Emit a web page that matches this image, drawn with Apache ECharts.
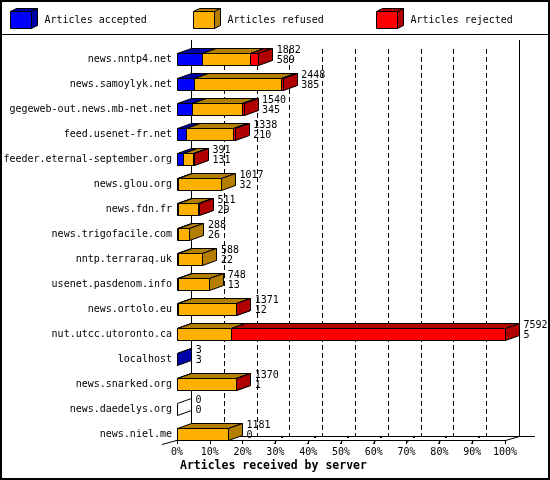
<!DOCTYPE html>
<html><head><meta charset="utf-8">
<title>Articles received by server</title>
<script src="https://cdn.jsdelivr.net/npm/echarts@6/dist/echarts.min.js"></script>
<style>html,body{margin:0;padding:0;background:#fff}#g1{width:550px;height:480px}</style>
</head>
<body>
<div id="g1"></div>
<script type="text/javascript">
// servers, top to bottom
var servers = ['news.nntp4.net', 'news.samoylyk.net', 'gegeweb-out.news.mb-net.net', 'feed.usenet-fr.net',
    'feeder.eternal-september.org', 'news.glou.org', 'news.fdn.fr', 'news.trigofacile.com',
    'nntp.terraraq.uk', 'usenet.pasdenom.info', 'news.ortolo.eu', 'nut.utcc.utoronto.ca',
    'localhost', 'news.snarked.org', 'news.daedelys.org', 'news.niel.me'];
var accepted = [589, 385, 345, 210, 131, 32, 29, 26, 22, 13, 12, 5, 3, 1, 0, 0];
var refused = [1105, 2020, 1170, 1078, 240, 985, 464, 262, 566, 735, 1349, 1250, 0, 1359, 0, 1181];
var rejected = [188, 43, 25, 50, 20, 0, 18, 0, 0, 0, 10, 6337, 0, 10, 0, 0];
var seriesNames = ['Articles accepted', 'Articles refused', 'Articles rejected'];

var front = ['#0000ff', '#ffb000', '#ff0000'];
var dark = ['#0000aa', '#b47e00', '#b00000'];
var FONT = '"DejaVu Sans Mono", monospace';

var totals = [];
for (var i = 0; i < servers.length; i++) {
    totals.push(accepted[i] + refused[i] + rejected[i]);
}
var maxTotal = Math.max.apply(null, totals);

var barData = [];
for (var i = 0; i < servers.length; i++) {
    barData.push([i, accepted[i], refused[i], rejected[i]]);
}

var DX = 14, DY = 5, H = 6;
function px(v) { return Math.round(v) + 0.5; }

function renderBar(params, api) {
    var i = api.value(0);
    var vals = [api.value(1), api.value(2), api.value(3)];
    var total = vals[0] + vals[1] + vals[2];
    var base = api.coord([0, i]);
    var yt = px(base[1] - H), yb = yt + 2 * H;
    var kids = [];
    var line = {stroke: '#000', lineWidth: 1};
    if (total === 0) {
        var x0 = px(base[0]);
        kids.push({type: 'polygon', shape: {points: [[x0, yt], [x0 + DX, yt - DY], [x0 + DX, yb - DY], [x0, yb]]},
            style: {fill: '#fff', stroke: '#000', lineWidth: 1}});
    }
    var cum = 0;
    for (var k = 0; k < 3; k++) {
        if (!vals[k]) continue;
        var x1 = px(api.coord([cum / maxTotal * 100, i])[0]);
        cum += vals[k];
        var x2 = px(api.coord([cum / maxTotal * 100, i])[0]);
        kids.push({type: 'rect', shape: {x: x1, y: yt, width: x2 - x1, height: 2 * H},
            style: {fill: front[k], stroke: '#000', lineWidth: 1}});
        kids.push({type: 'polygon', shape: {points: [[x1, yt], [x2, yt], [x2 + DX, yt - DY], [x1 + DX, yt - DY]]},
            style: {fill: dark[k], stroke: '#000', lineWidth: 1}});
        kids.push({type: 'polygon', shape: {points: [[x2, yt], [x2 + DX, yt - DY], [x2 + DX, yb - DY], [x2, yb]]},
            style: {fill: dark[k], stroke: '#000', lineWidth: 1}});
    }
    var xe = api.coord([total / maxTotal * 100, i])[0];
    kids.push({type: 'text', style: {text: String(total), x: xe + 18.5, y: base[1] - 9,
        font: '10px ' + FONT, fill: '#000', align: 'left', verticalAlign: 'middle'}});
    kids.push({type: 'text', style: {text: String(vals[0]), x: xe + 18.5, y: base[1] + 1.5,
        font: '10px ' + FONT, fill: '#000', align: 'left', verticalAlign: 'middle'}});
    return {type: 'group', children: kids};
}

// back wall, floor and the odd slanted ticks
function renderFrame(params, api) {
    var kids = [];
    var solid = {stroke: '#000', lineWidth: 1};
    var dashed = {stroke: '#000', lineWidth: 1, lineDash: [5, 3]};
    var xs = [];
    for (var k = 0; k <= 10; k++) xs.push(Math.round(api.coord([k * 10, 0])[0]));
    for (var k = 0; k <= 10; k++) {
        var xb = xs[k] + DX + 0.5;
        if (k === 0 || k === 10) {
            kids.push({type: 'line', shape: {x1: xb, y1: 40, x2: xb, y2: 436.5}, style: solid});
        } else {
            kids.push({type: 'line', shape: {x1: xb, y1: 49, x2: xb, y2: 436.5}, style: dashed});
        }
    }
    kids.push({type: 'line', shape: {x1: xs[0] + DX, y1: 436.5, x2: xs[10] + 30, y2: 436.5}, style: solid});
    kids.push({type: 'line', shape: {x1: xs[0] - 15, y1: 444.5, x2: xs[0] + DX, y2: 436.5}, style: solid});
    kids.push({type: 'line', shape: {x1: xs[10] + 0.5, y1: 440.5, x2: xs[10] + DX + 0.5, y2: 436.5}, style: solid});
    for (var k = 3; k <= 9; k++) {
        kids.push({type: 'line', shape: {x1: xs[k] - 1, y1: 444, x2: xs[k] + 2, y2: 440}, style: solid});
        kids.push({type: 'rect', shape: {x: xs[k] + 6, y: 436, width: 2, height: 2}, style: {fill: '#000'}});
    }
    return {type: 'group', children: kids};
}

function cube(x, y, k) {
    return [
        {type: 'rect', shape: {x: x, y: y, width: 21, height: 17}, style: {fill: front[k], stroke: '#000', lineWidth: 1}},
        {type: 'polygon', shape: {points: [[x, y], [x + 21, y], [x + 27, y - 3], [x + 6, y - 3]]},
            style: {fill: dark[k], stroke: '#000', lineWidth: 1}},
        {type: 'polygon', shape: {points: [[x + 21, y], [x + 27, y - 3], [x + 27, y + 14], [x + 21, y + 17]]},
            style: {fill: dark[k], stroke: '#000', lineWidth: 1}},
        {type: 'text', style: {text: seriesNames[k], x: x + 34, y: y + 9, font: '10px ' + FONT,
            fill: '#000', verticalAlign: 'middle'}}
    ];
}

var graphics = [
    {type: 'rect', shape: {x: 1, y: 1, width: 548, height: 478}, style: {fill: 'none', stroke: '#000', lineWidth: 2}},
    {type: 'line', shape: {x1: 0, y1: 34.5, x2: 550, y2: 34.5}, style: {stroke: '#000', lineWidth: 1}},
    {type: 'text', style: {text: 'Articles received by server', x: 180, y: 466,
        font: 'bold 11.5px ' + FONT, fill: '#000', verticalAlign: 'middle'}}
];
graphics = graphics.concat(cube(10.5, 11.5, 0), cube(193.5, 11.5, 1), cube(376.5, 11.5, 2));

var option = {
    animation: false,
    backgroundColor: '#fff',
    grid: {left: 177, right: 45, top: 46.5, bottom: 33.5},
    xAxis: {
        type: 'value', min: 0, max: 100, interval: 10, offset: -6.5,
        axisLine: {show: true, lineStyle: {color: '#000', width: 1}},
        axisTick: {show: true, length: 4, lineStyle: {color: '#000'}},
        axisLabel: {formatter: '{value}%', color: '#000', fontFamily: FONT, fontSize: 10, margin: 7},
        splitLine: {show: false}
    },
    yAxis: {
        type: 'category', data: servers, inverse: true,
        axisLine: {show: false}, axisTick: {show: false},
        axisLabel: {color: '#000', fontFamily: FONT, fontSize: 10, margin: 5},
        splitLine: {show: false}
    },
    graphic: graphics,
    series: [
        {type: 'custom', name: 'frame', renderItem: renderFrame, data: [[0, 0]], clip: false, z: 1, silent: true},
        {type: 'custom', name: 'bars', renderItem: renderBar, data: barData, clip: false, z: 2,
            encode: {x: [1, 2, 3], y: 0}}
    ]
};

var myChart = echarts.init(document.getElementById('g1'));
myChart.setOption(option);
</script>
</body></html>
